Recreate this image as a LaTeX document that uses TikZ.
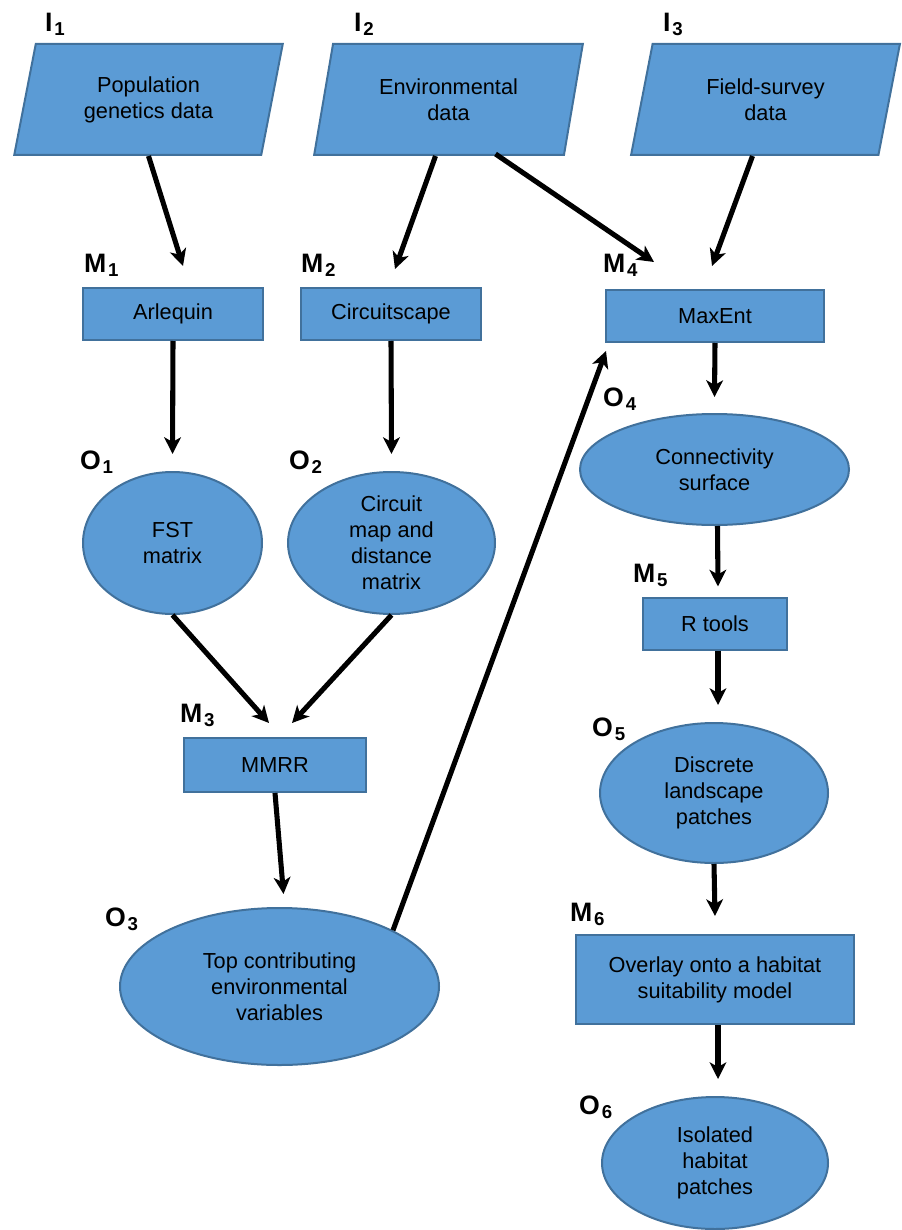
\documentclass[tikz,border=0pt]{standalone}
\usepackage{fontspec}
\setmainfont{Liberation Sans}
\usetikzlibrary{calc}
\usetikzlibrary{arrows.meta}
\usetikzlibrary{shapes.geometric}
\definecolor{boxfill}{HTML}{5B9BD5}
\definecolor{boxline}{HTML}{41719C}
\newcommand{\steplab}[2]{\textbf{#1}\kern1.5pt\raisebox{-3pt}{\fontsize{14}{14}\selectfont\bfseries #2}}

\begin{document}
\begin{tikzpicture}[
        x=0.75pt, y=-0.75pt,
        every node/.style={fill=boxfill,draw=boxline,line width=1.5pt,align=center,inner sep=2pt,font=\fontsize{16.3}{19.5}\selectfont},
        data/.style={trapezium,trapezium left angle=76,trapezium right angle=104,trapezium stretches=true,minimum width=201.75pt,minimum height=83.25pt},
        tool/.style={rectangle,minimum height=39pt},
        result/.style={ellipse,inner sep=0pt},
        lab/.style={fill=none,draw=none,inner sep=0pt,anchor=base west,font=\fontsize{20}{20}\selectfont},
        flow/.style={-{Stealth[length=12.5pt,width=12.5pt,inset=3.5pt]},line width=3.8pt}
    ]
        \useasboundingbox (0,0) rectangle (901,1230);
        \node[data] (I1) at (148.5,99.5) {Population\\genetics data};
        \node[data] (I2) at (448.5,99.5) {Environmental\\data};
        \node[data] (I3) at (765.5,99.5) {Field-survey\\data};
        \node[tool,minimum width=135pt] (M1) at (173,314) {Arlequin};
        \node[tool,minimum width=135pt] (M2) at (391,314) {Circuitscape};
        \node[tool,minimum width=163.5pt] (M4) at (715,316) {MaxEnt};
        \node[result,minimum width=134.25pt,minimum height=106.5pt] (O1) at (172.5,543) {FST\\matrix};
        \node[result,minimum width=155.25pt,minimum height=106.5pt] (O2) at (391.5,543) {Circuit\\map and\\distance\\matrix};
        \node[tool,minimum width=136.5pt,minimum height=40.5pt] (M3) at (275,765) {MMRR};
        \node[result,minimum width=239.25pt,minimum height=117.75pt] (O3) at (279.5,986.5) {Top contributing\\environmental\\variables};
        \node[result,minimum width=201.75pt,minimum height=83.25pt] (O4) at (714.5,469.5) {Connectivity\\surface};
        \node[tool,minimum width=108pt] (M5) at (715,623.5) {R tools};
        \node[result,minimum width=171pt,minimum height=105pt] (O5) at (714,793) {Discrete\\landscape\\patches};
        \node[tool,minimum width=208.5pt,minimum height=66.75pt] (M6) at (715,979.5) {Overlay onto a habitat\\suitability model};
        \node[result,minimum width=169.5pt,minimum height=99pt] (O6) at (715,1163) {Isolated\\habitat\\patches};
        \node[lab] (tI1) at (44,32) {\steplab{I}{1}};
        \node[lab] (tI2) at (353,32) {\steplab{I}{2}};
        \node[lab] (tI3) at (662,32) {\steplab{I}{3}};
        \node[lab] (tM1) at (83,273) {\steplab{M}{1}};
        \node[lab] (tM2) at (300,273) {\steplab{M}{2}};
        \node[lab] (tM4) at (602,273) {\steplab{M}{4}};
        \node[lab] (tO1) at (79,469) {\steplab{O}{1}};
        \node[lab] (tO2) at (288,469) {\steplab{O}{2}};
        \node[lab] (tM3) at (179,722) {\steplab{M}{3}};
        \node[lab] (tO3) at (104,926) {\steplab{O}{3}};
        \node[lab] (tO4) at (602,406) {\steplab{O}{4}};
        \node[lab] (tM5) at (632,582) {\steplab{M}{5}};
        \node[lab] (tO5) at (591,736) {\steplab{O}{5}};
        \node[lab] (tM6) at (569,921) {\steplab{M}{6}};
        \node[lab] (tO6) at (578,1114) {\steplab{O}{6}};
        \draw[flow] (I1.south) -- ($(M1.north)+(10,-21)$);
        \draw[flow] ($(I2.south)+(-13,0)$) -- ($(M2.north)+(4,-18)$);
        \draw[flow] ($(I2.south)+(47,-2)$) -- ($(M4.north west)+(49,-27)$);
        \draw[flow] ($(I3.south)+(-13,0)$) -- ($(M4.north)+(-3,-23)$);
        \draw[flow] (M1.south) -- ($(O1.north)+(0,-17)$);
        \draw[flow] (M2.south) -- ($(O2.north)+(0,-17)$);
        \draw[flow] (O1.south) -- ($(M3.north)+(-6,-14)$);
        \draw[flow] (O2.south) -- ($(M3.north)+(17,-14)$);
        \draw[flow] (M3.south) -- ($(O3.north)+(4,-13)$);
        \draw[flow] (O3.north east) -- ($(M4.south west)+(1,8)$);
        \draw[flow] (M4.south) -- ($(O4.north)+(0,-16)$);
        \draw[flow] ($(O4.south)+(3,0)$) -- ($(M5.north)+(3,-10)$);
        \draw[flow] ($(M5.south)+(3,0)$) -- ($(O5.north)+(4,-17)$);
        \draw[flow] (O5.south) -- ($(M6.north)+(0,-18)$);
        \draw[flow] ($(M6.south)+(3,0)$) -- ($(O6.north)+(3,-17)$);
    \end{tikzpicture}
\end{document}
